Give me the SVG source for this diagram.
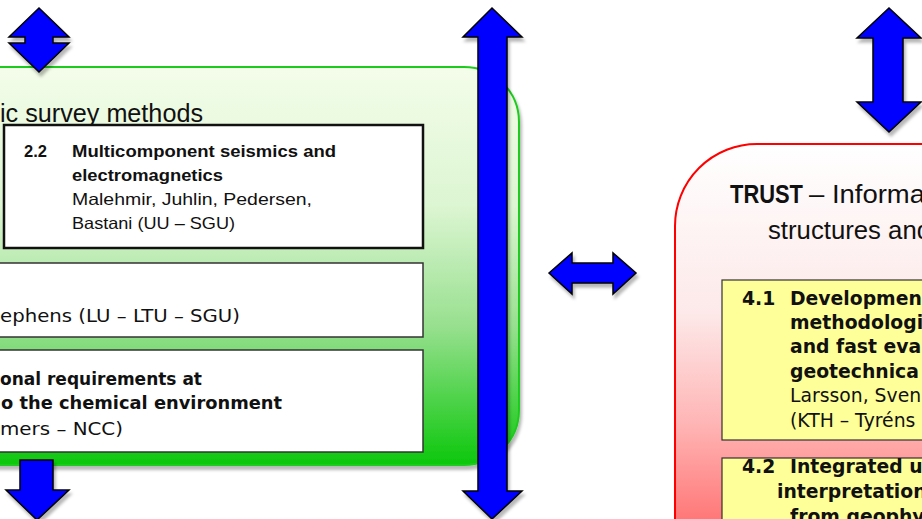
<svg xmlns="http://www.w3.org/2000/svg" width="922" height="519" viewBox="0 0 922 519">
<defs>
<linearGradient id="gGreen" x1="0" y1="67" x2="0" y2="465" gradientUnits="userSpaceOnUse">
<stop offset="0" stop-color="#f4fdea"/>
<stop offset="0.35" stop-color="#dcf5d2"/>
<stop offset="0.65" stop-color="#98e08f"/>
<stop offset="1" stop-color="#0cc70c"/>
</linearGradient>
<linearGradient id="gRed" x1="0" y1="144" x2="0" y2="519" gradientUnits="userSpaceOnUse">
<stop offset="0" stop-color="#ffffff"/>
<stop offset="0.45" stop-color="#fde9e9"/>
<stop offset="0.75" stop-color="#ffb4b4"/>
<stop offset="1" stop-color="#ff7878"/>
</linearGradient>
<filter id="sh" x="-20%" y="-20%" width="140%" height="140%">
<feDropShadow dx="2" dy="4" stdDeviation="1.5" flood-color="#000" flood-opacity="0.28"/>
</filter>
</defs>
<style>
.arrow{fill:#0000ff;stroke:#000;stroke-width:1.5;stroke-linejoin:miter;filter:url(#sh)}
.cal{font-family:"Liberation Sans",Arial,sans-serif;fill:#111}
.cg{font-family:"DejaVu Sans","Liberation Sans",sans-serif;font-size:18px;fill:#111}
.cgr{font-family:"DejaVu Sans","Liberation Sans",sans-serif;font-size:18.8px;fill:#111}
.b{font-weight:bold}
.sub{fill:#fff;stroke:#333;stroke-width:1.5}
.yel{fill:#ffff99;stroke:#333;stroke-width:1.2}
</style>

<g id="wp2-container">
<rect x="-60" y="67" width="579" height="398" rx="55" ry="55" fill="url(#gGreen)" stroke="#1fcc1f" stroke-width="2" filter="url(#sh)"/>
<text class="cal" x="0" y="122" font-size="25" textLength="203" lengthAdjust="spacingAndGlyphs">ic survey methods</text>
</g>

<g id="wp2-2">
<rect x="4" y="125" width="419" height="123" fill="#fff" stroke="#111" stroke-width="2.5"/>
<text class="cal b" x="24" y="157" font-size="16.5">2.2</text>
<text class="cal b" x="72" y="157" font-size="16.5" textLength="264" lengthAdjust="spacingAndGlyphs">Multicomponent seismics and</text>
<text class="cal b" x="72" y="181" font-size="16.5" textLength="151" lengthAdjust="spacingAndGlyphs">electromagnetics</text>
<text class="cal" x="72" y="205" font-size="16.5" textLength="240" lengthAdjust="spacingAndGlyphs">Malehmir, Juhlin, Pedersen,</text>
<text class="cal" x="72" y="229" font-size="16.5" textLength="163" lengthAdjust="spacingAndGlyphs">Bastani (UU – SGU)</text>
</g>

<g id="wp2-3">
<rect class="sub" x="-10" y="263" width="433" height="74"/>
<text class="cg" x="0" y="322" textLength="240" lengthAdjust="spacingAndGlyphs">ephens (LU – LTU – SGU)</text>
</g>

<g id="wp2-4">
<rect class="sub" x="-10" y="350" width="433" height="102"/>
<text class="cg b" x="0" y="385" textLength="202" lengthAdjust="spacingAndGlyphs">onal requirements at</text>
<text class="cg b" x="1" y="409" textLength="281" lengthAdjust="spacingAndGlyphs">o the chemical environment</text>
<text class="cg" x="0" y="435" textLength="123" lengthAdjust="spacingAndGlyphs">mers – NCC)</text>
</g>

<g id="trust-container">
<rect x="675" y="144" width="420" height="520" rx="82" ry="82" fill="url(#gRed)" stroke="#ff0000" stroke-width="2"/>
<text class="cal b" x="730" y="203" font-size="25" textLength="73" lengthAdjust="spacingAndGlyphs">TRUST</text>
<text class="cal" x="809" y="203" font-size="26" textLength="116" lengthAdjust="spacingAndGlyphs">– Informa</text>
<text class="cal" x="768" y="239" font-size="26" textLength="163" lengthAdjust="spacingAndGlyphs">structures and</text>
</g>

<g id="wp4-1">
<rect class="yel" x="722" y="280" width="240" height="160"/>
<text class="cgr b" x="742" y="305">4.1</text>
<text class="cgr b" x="790" y="305">Developmen</text>
<text class="cgr b" x="790" y="329">methodologi</text>
<text class="cgr b" x="790" y="353">and fast eval</text>
<text class="cgr b" x="790" y="378">geotechnica</text>
<text class="cgr" x="790" y="402">Larsson, Sven</text>
<text class="cgr" x="790" y="427">(KTH – Tyréns</text>
</g>

<g id="wp4-2">
<rect class="yel" x="722" y="458" width="240" height="100"/>
<text class="cgr b" x="742" y="473">4.2</text>
<text class="cgr b" x="790" y="473">Integrated us</text>
<text class="cgr b" x="777" y="498">interpretation</text>
<text class="cgr b" x="790" y="523">from geophy</text>
</g>

<g id="connectors">
<polygon class="arrow" points="39,8 69,37 53,37 53,43 69,43 39,72 9,43 25,43 25,37 9,37"/>
<polygon class="arrow" points="492,8 522,37 507,37 507,491 522,491 492,519 463,491 478,491 478,37 463,37"/>
<polygon class="arrow" points="549,273 572,253 572,263 613,263 613,253 636,273 613,294 613,283 572,283 572,294"/>
<polygon class="arrow" points="889,8 921,38 903,38 903,102 921,102 889,132 857,102 873,102 873,38 857,38"/>
<polygon class="arrow" points="20,460 53,460 53,490 69,490 37,520 6,490 20,490"/>
</g>
</svg>
